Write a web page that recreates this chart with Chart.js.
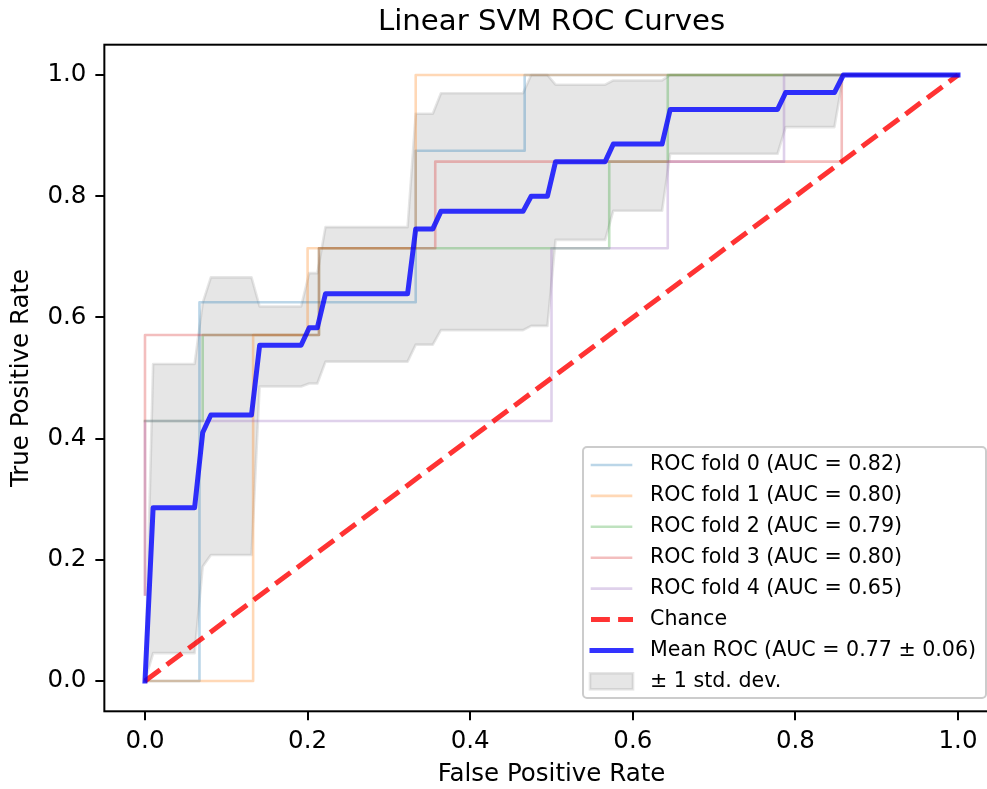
<!DOCTYPE html>
<html>
<head>
<meta charset="utf-8">
<script src="https://cdn.jsdelivr.net/npm/chart.js@4.4.1/dist/chart.umd.min.js"></script>
<style>
  html, body { margin: 0; padding: 0; background: #fff; overflow: hidden; }
  #wrap { width: 987px; height: 789px; overflow: hidden; }
</style>
</head>
<body>
<div id="wrap"><canvas id="roc" width="1000" height="789"></canvas></div>
<script>
// ROC curve of each fold (fpr / tpr)
const fold0Fpr = [0, 0.067, 0.067, 0.333, 0.333, 0.467, 0.467, 1];
const fold0Tpr = [0, 0, 0.625, 0.625, 0.875, 0.875, 1, 1];
const fold1Fpr = [0, 0.133, 0.133, 0.2, 0.2, 0.333, 0.333, 1];
const fold1Tpr = [0, 0, 0.571, 0.571, 0.714, 0.714, 1, 1];
const fold2Fpr = [0, 0.071, 0.071, 0.214, 0.214, 0.571, 0.571, 0.643, 0.643, 1];
const fold2Tpr = [0.429, 0.429, 0.571, 0.571, 0.714, 0.714, 0.857, 0.857, 1, 1];
const fold3Fpr = [0, 0, 0.214, 0.214, 0.357, 0.357, 0.857, 0.857, 1];
const fold3Tpr = [0.143, 0.571, 0.571, 0.714, 0.714, 0.857, 0.857, 1, 1];
const fold4Fpr = [0, 0, 0.5, 0.5, 0.643, 0.643, 0.786, 0.786, 1];
const fold4Tpr = [0.143, 0.429, 0.429, 0.714, 0.714, 0.857, 0.857, 1, 1];

const foldLabels = [
  'ROC fold 0 (AUC = 0.82)',
  'ROC fold 1 (AUC = 0.80)',
  'ROC fold 2 (AUC = 0.79)',
  'ROC fold 3 (AUC = 0.80)',
  'ROC fold 4 (AUC = 0.65)'
];

// chance diagonal
const chanceFpr = [0, 1];
const chanceTpr = [0, 1];

// mean ROC and the +/- 1 std band (vertices)
const meanFpr = [0, 0.010, 0.061, 0.071, 0.081, 0.131, 0.141, 0.192, 0.202, 0.212,
  0.222, 0.323, 0.333, 0.354, 0.364, 0.465, 0.475, 0.495, 0.505, 0.566,
  0.576, 0.636, 0.646, 0.778, 0.788, 0.848, 0.859, 1];
const meanTpr = [0, 0.286, 0.286, 0.41, 0.439, 0.439, 0.554, 0.554, 0.583, 0.583,
  0.639, 0.639, 0.746, 0.746, 0.775, 0.775, 0.8, 0.8, 0.857, 0.857,
  0.886, 0.886, 0.943, 0.943, 0.971, 0.971, 1, 1];
const tprUpper = [0, 0.523, 0.523, 0.624, 0.666, 0.666, 0.618, 0.618, 0.673, 0.673,
  0.749, 0.749, 0.936, 0.936, 0.97, 0.97, 1, 1, 0.984, 0.984,
  0.991, 0.991, 1, 1, 1, 1, 1, 1];
const tprLower = [0, 0.046, 0.046, 0.189, 0.208, 0.208, 0.486, 0.486, 0.491, 0.491,
  0.527, 0.527, 0.555, 0.555, 0.579, 0.579, 0.586, 0.586, 0.728, 0.728,
  0.776, 0.776, 0.87, 0.87, 0.914, 0.914, 1, 1];

const axisTicks = [0, 0.2, 0.4, 0.6, 0.8, 1.0];

const FONT = 'DejaVu Sans';

function pts(xs, ys) {
  return xs.map((x, i) => ({ x: x, y: ys[i] }));
}

const foldColors = [
  'rgba(31,119,180,0.3)',
  'rgba(255,127,14,0.3)',
  'rgba(44,160,44,0.3)',
  'rgba(214,39,40,0.3)',
  'rgba(148,103,189,0.3)'
];
const folds = [
  [fold0Fpr, fold0Tpr], [fold1Fpr, fold1Tpr], [fold2Fpr, fold2Tpr],
  [fold3Fpr, fold3Tpr], [fold4Fpr, fold4Tpr]
];

const datasets = folds.map((f, i) => ({
  label: foldLabels[i],
  data: pts(f[0], f[1]),
  borderColor: foldColors[i],
  borderWidth: 2.6,
  order: 6 - i
}));

datasets.push({
  label: 'Chance',
  data: pts(chanceFpr, chanceTpr),
  borderColor: 'rgba(255,0,0,0.8)',
  borderWidth: 5,
  borderDash: [18.9, 8.2],
  borderCapStyle: 'butt',
  order: 1
});
datasets.push({
  label: 'Mean ROC (AUC = 0.77 \u00b1 0.06)',
  data: pts(meanFpr, meanTpr),
  borderColor: 'rgba(0,0,255,0.8)',
  borderWidth: 5,
  order: 0
});
datasets.push({
  label: '\u00b1 1 std. dev.',
  band: true,
  data: pts(meanFpr, tprUpper),
  borderColor: 'rgba(128,128,128,0.2)',
  backgroundColor: 'rgba(128,128,128,0.2)',
  borderWidth: 2.6,
  fill: '+1',
  order: 7
});
datasets.push({
  label: '',
  data: pts(meanFpr, tprLower),
  borderColor: 'rgba(128,128,128,0.2)',
  borderWidth: 2.6,
  order: 8
});

// title, full frame and matplotlib-like legend
const decor = {
  id: 'decor',
  afterDatasetsDraw(chart) {
    const { ctx, chartArea: a } = chart;
    ctx.save();
    ctx.strokeStyle = '#000';
    ctx.lineWidth = 2;
    ctx.strokeRect(a.left, a.top, a.right - a.left, a.bottom - a.top);
    ctx.restore();
  },
  afterDraw(chart) {
    const { ctx, chartArea: a } = chart;
    ctx.save();
    ctx.fillStyle = '#000';
    ctx.font = '29.2px "' + FONT + '"';
    ctx.textAlign = 'center';
    ctx.textBaseline = 'alphabetic';
    ctx.fillText('Linear SVM ROC Curves', (a.left + a.right) / 2, 30);

    // legend box
    ctx.beginPath();
    ctx.roundRect(583, 447, 403, 251, 4);
    ctx.fillStyle = 'rgba(255,255,255,0.8)';
    ctx.fill();
    ctx.strokeStyle = '#cccccc';
    ctx.lineWidth = 2;
    ctx.stroke();

    let row = 0;
    chart.data.datasets.forEach(ds => {
      if (!ds.label) return;
      const y = 465 + row * 30.9;
      if (ds.band) {
        ctx.fillStyle = ds.backgroundColor;
        ctx.fillRect(590, y - 8, 43, 16);
        ctx.strokeStyle = ds.borderColor;
        ctx.lineWidth = 2.6;
        ctx.strokeRect(590, y - 8, 43, 16);
      } else {
        ctx.beginPath();
        ctx.setLineDash(ds.borderDash || []);
        ctx.lineCap = ds.borderDash ? 'butt' : 'square';
        ctx.strokeStyle = ds.borderColor;
        ctx.lineWidth = ds.borderWidth;
        const x0 = ds.borderDash ? 591 : 592;
        const x1 = ds.borderDash ? 633 : 631;
        ctx.moveTo(x0, y);
        ctx.lineTo(x1, y);
        ctx.stroke();
        ctx.setLineDash([]);
      }
      ctx.fillStyle = '#000';
      ctx.font = '20.6px "' + FONT + '"';
      ctx.textAlign = 'left';
      ctx.textBaseline = 'middle';
      ctx.fillText(ds.label, 650, y);
      row++;
    });
    ctx.restore();
  }
};

const tickFont = { family: FONT, size: 24.5 };
const gridOpts = {
  display: true, drawOnChartArea: false, drawTicks: true,
  tickLength: 9, color: '#000', lineWidth: 2
};

new Chart(document.getElementById('roc'), {
  type: 'line',
  data: { datasets: datasets },
  options: {
    responsive: false,
    devicePixelRatio: 1,
    animation: false,
    elements: {
      point: { radius: 0 },
      line: { tension: 0, fill: false, borderJoinStyle: 'round', borderCapStyle: 'square' }
    },
    layout: { padding: { left: 0, right: 1.35, top: 44.7, bottom: 0 } },
    plugins: {
      legend: { display: false },
      tooltip: { enabled: false },
      title: { display: false },
      filler: { propagate: false }
    },
    scales: {
      x: {
        type: 'linear', min: -0.05, max: 1.05,
        afterBuildTicks: s => { s.ticks = axisTicks.map(v => ({ value: v })); },
        afterFit: s => { s.height = 77.7; },
        grid: gridOpts,
        border: { display: false },
        ticks: { color: '#000', font: tickFont, padding: 7, maxRotation: 0, autoSkip: false,
          callback: v => v.toFixed(1) },
        title: { display: true, text: 'False Positive Rate', color: '#000',
          font: tickFont, padding: { top: 0, bottom: 0 } }
      },
      y: {
        type: 'linear', min: -0.05, max: 1.05,
        afterBuildTicks: s => { s.ticks = axisTicks.map(v => ({ value: v })); },
        afterFit: s => { s.width = 104.35; },
        grid: gridOpts,
        border: { display: false },
        ticks: { color: '#000', font: tickFont, padding: 9, autoSkip: false,
          callback: v => v.toFixed(1) },
        title: { display: true, text: 'True Positive Rate', color: '#000',
          font: tickFont, padding: { top: 7, bottom: 0 } }
      }
    }
  },
  plugins: [decor]
});
</script>
</body>
</html>
